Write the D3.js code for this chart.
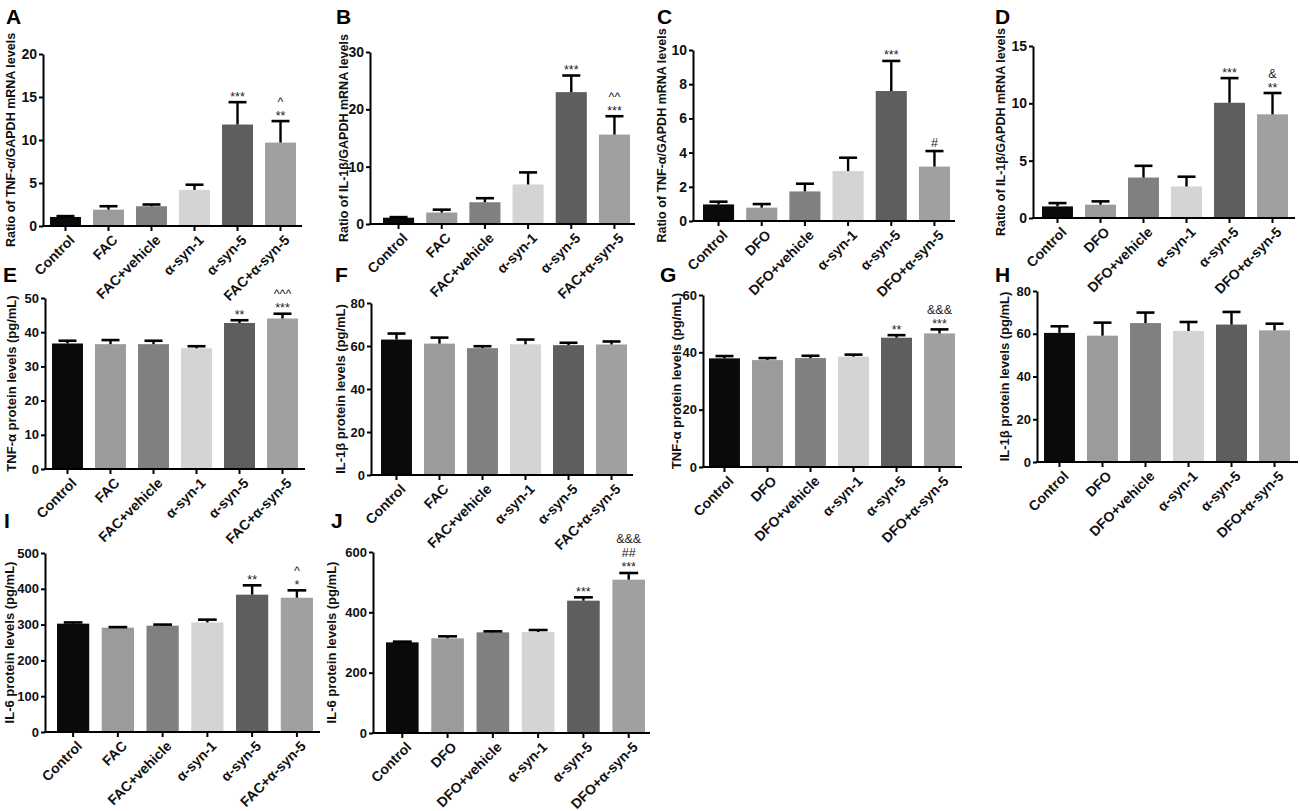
<!DOCTYPE html>
<html>
<head>
<meta charset="utf-8">
<script src="https://cdn.jsdelivr.net/npm/d3@7"></script>
<style>
  body { margin: 0; background: #fff; }
  svg { display: block; font-family: "Liberation Sans", Arial, sans-serif; }
</style>
</head>
<body>
<div id="fig"></div>
<script>
// ---- data ----
var facGroups = ["Control", "FAC", "FAC+vehicle", "α-syn-1", "α-syn-5", "FAC+α-syn-5"];
var dfoGroups = ["Control", "DFO", "DFO+vehicle", "α-syn-1", "α-syn-5", "DFO+α-syn-5"];

// A: TNF-a mRNA, FAC
var meanA = [1.05, 1.9, 2.3, 4.2, 11.8, 9.7];
var semA  = [0.1, 0.4, 0.2, 0.6, 2.6, 2.5];
// B: IL-1b mRNA, FAC
var meanB = [1.1, 2.0, 3.8, 6.9, 23.0, 15.6];
var semB  = [0.1, 0.5, 0.7, 2.1, 2.9, 3.2];
// C: TNF-a mRNA, DFO
var meanC = [0.97, 0.78, 1.73, 2.92, 7.6, 3.18];
var semC  = [0.16, 0.21, 0.45, 0.78, 1.76, 0.91];
// D: IL-1b mRNA, DFO
var meanD = [1.01, 1.16, 3.53, 2.75, 10.05, 9.04];
var semD  = [0.29, 0.29, 1.02, 0.85, 2.15, 1.86];
// E: TNF-a protein, FAC
var meanE = [36.7, 36.5, 36.5, 35.3, 42.7, 44.0];
var semE  = [0.8, 1.2, 1.0, 0.6, 0.8, 1.4];
// F: IL-1b protein, FAC
var meanF = [63.0, 61.1, 59.0, 60.8, 60.4, 60.7];
var semF  = [2.8, 2.8, 0.9, 2.2, 1.1, 1.4];
// G: TNF-a protein, DFO
var meanG = [37.9, 37.3, 38.0, 38.5, 45.1, 46.6];
var semG  = [0.8, 0.7, 0.8, 0.7, 0.9, 1.4];
// H: IL-1b protein, DFO
var meanH = [60.4, 59.1, 65.0, 61.3, 64.3, 61.6];
var semH  = [3.1, 6.1, 4.9, 4.2, 5.9, 3.1];
// I: IL-6 protein, FAC
var meanI = [302.6, 291.4, 297, 306, 383.6, 375];
var semI  = [3.4, 1.6, 3, 7.8, 26.1, 20.7];
// J: IL-6 protein, DFO
var meanJ = [300.5, 313.8, 333.7, 334.8, 438.7, 508.3];
var semJ  = [2.3, 6.6, 3.3, 6.6, 11, 22.1];

// significance marks, listed top to bottom
var sigA = [[], [], [], [], ["***"], ["^", "**"]];
var sigB = [[], [], [], [], ["***"], ["^^", "***"]];
var sigC = [[], [], [], [], ["***"], ["#"]];
var sigD = [[], [], [], [], ["***"], ["&", "**"]];
var sigE = [[], [], [], [], ["**"], ["^^^", "***"]];
var sigF = [[], [], [], [], [], []];
var sigG = [[], [], [], [], ["**"], ["&&&", "***"]];
var sigH = [[], [], [], [], [], []];
var sigI = [[], [], [], [], ["**"], ["^", "*"]];
var sigJ = [[], [], [], [], ["***"], ["&&&", "##", "***"]];

var mrnaTnf = "Ratio of TNF-α/GAPDH mRNA levels";
var mrnaIl1 = "Ratio of IL-1β/GAPDH mRNA levels";
var protTnf = "TNF-α protein levels (pg/mL)";
var protIl1 = "IL-1β protein levels (pg/mL)";
var protIl6 = "IL-6 protein levels (pg/mL)";

var barColors = ["#0a0a0a", "#9b9b9b", "#808080", "#d4d4d4", "#5e5e5e", "#a0a0a0"];

// ---- panel layout (pixels) ----
// fs: tick label size, ts: title size
var panels = [
  {letter:"A", lx:6,   ly:24,  groups:facGroups, mean:meanA, sem:semA, sig:sigA, max:20,  step:5,   title:mrnaTnf, tx:11,   ts:12.5, fs:14, ax:43,   ae:302,  b0:50,   b1:296,  y0:226, y1:54},
  {letter:"B", lx:336, ly:24,  groups:facGroups, mean:meanB, sem:semB, sig:sigB, max:30,  step:10,  title:mrnaIl1, tx:344,  ts:12.5, fs:14, ax:370,  ae:635,  b0:383,  b1:630,  y0:224, y1:52},
  {letter:"C", lx:657, ly:24,  groups:dfoGroups, mean:meanC, sem:semC, sig:sigC, max:10,  step:2,   title:mrnaTnf, tx:662,  ts:12.5, fs:14, ax:693,  ae:955,  b0:703,  b1:950,  y0:221, y1:50},
  {letter:"D", lx:995, ly:24,  groups:dfoGroups, mean:meanD, sem:semD, sig:sigD, max:15,  step:5,   title:mrnaIl1, tx:1001, ts:12.5, fs:14, ax:1033, ae:1295, b0:1042, b1:1288, y0:218, y1:46},
  {letter:"E", lx:3,   ly:282, groups:facGroups, mean:meanE, sem:semE, sig:sigE, max:50,  step:10,  title:protTnf, tx:11,   ts:13,   fs:13, ax:45,   ae:305,  b0:52,   b1:298,  y0:469, y1:298},
  {letter:"F", lx:335, ly:282, groups:facGroups, mean:meanF, sem:semF, sig:sigF, max:80,  step:20,  title:protIl1, tx:340,  ts:13,   fs:13, ax:371,  ae:633,  b0:381,  b1:627,  y0:475, y1:303},
  {letter:"G", lx:660, ly:282, groups:dfoGroups, mean:meanG, sem:semG, sig:sigG, max:60,  step:20,  title:protTnf, tx:676,  ts:13,   fs:13, ax:703,  ae:962,  b0:709,  b1:955,  y0:467, y1:295},
  {letter:"H", lx:995, ly:282, groups:dfoGroups, mean:meanH, sem:semH, sig:sigH, max:80,  step:20,  title:protIl1, tx:1004, ts:13,   fs:13, ax:1037, ae:1298, b0:1044, b1:1290, y0:462, y1:291},
  {letter:"I", lx:4,   ly:528, groups:facGroups, mean:meanI, sem:semI, sig:sigI, max:500, step:100, title:protIl6, tx:9,    ts:13,   fs:13, ax:45,   ae:320,  b0:57,   b1:313,  y0:732, y1:553},
  {letter:"J", lx:331, ly:528, groups:dfoGroups, mean:meanJ, sem:semJ, sig:sigJ, max:600, step:200, title:protIl6, tx:331,  ts:13,   fs:13, ax:373,  ae:650,  b0:386,  b1:645,  y0:733, y1:552}
];

var svg = d3.select("#fig").append("svg")
  .attr("width", 1300)
  .attr("height", 811);

panels.forEach(function(p) {
  var g = svg.append("g");

  var x = d3.scaleBand()
    .domain(p.groups)
    .range([p.b0, p.b1])
    .paddingInner(0.28)
    .paddingOuter(0);

  var y = d3.scaleLinear()
    .domain([0, p.max])
    .range([p.y0, p.y1]);

  // bars
  g.selectAll(".bar")
    .data(p.groups)
    .enter()
    .append("rect")
    .attr("x", function(d) { return x(d); })
    .attr("y", function(d, i) { return y(p.mean[i]); })
    .attr("width", x.bandwidth())
    .attr("height", function(d, i) { return y(0) - y(p.mean[i]); })
    .attr("fill", function(d, i) { return barColors[i]; });

  // error bars (upper only)
  var capW = x.bandwidth() * 0.58;
  p.groups.forEach(function(d, i) {
    var cx = x(d) + x.bandwidth() / 2;
    var top = y(p.mean[i] + p.sem[i]);
    g.append("line")
      .attr("x1", cx).attr("x2", cx)
      .attr("y1", y(p.mean[i])).attr("y2", top)
      .attr("stroke", "#000").attr("stroke-width", 2.4);
    g.append("line")
      .attr("x1", cx - capW / 2).attr("x2", cx + capW / 2)
      .attr("y1", top).attr("y2", top)
      .attr("stroke", "#000").attr("stroke-width", 2.6);

    // significance marks, stacked in one text element
    var marks = p.sig[i];
    if (marks.length) {
      var last = marks[marks.length - 1];
      var base = top - (/^\*+$/.test(last) ? 1.5 : 4);
      var lineStep = 14;
      var t = g.append("text")
        .attr("text-anchor", "middle")
        .attr("font-size", 12.5)
        .attr("fill", "#222");
      marks.forEach(function(s, k) {
        t.append("tspan")
          .attr("x", cx)
          .attr("y", base - (marks.length - 1 - k) * lineStep)
          .text(s);
      });
    }
  });

  // y axis
  var yAxis = d3.axisLeft(y)
    .tickValues(d3.range(0, p.max + p.step / 2, p.step))
    .tickSize(4)
    .tickSizeOuter(0)
    .tickPadding(2);
  var ya = g.append("g")
    .attr("transform", "translate(" + p.ax + ",0)")
    .call(yAxis);
  ya.select(".domain").attr("stroke-width", 2);
  ya.selectAll(".tick line").attr("stroke-width", 2);
  ya.selectAll("text")
    .attr("font-size", p.fs)
    .attr("font-weight", "bold")
    .attr("fill", "#111")
    .attr("font-family", "Liberation Sans, Arial, sans-serif");

  // x axis line
  g.append("line")
    .attr("x1", p.ax - 1).attr("x2", p.ae)
    .attr("y1", p.y0).attr("y2", p.y0)
    .attr("stroke", "#000").attr("stroke-width", 2);

  // x ticks and rotated labels
  p.groups.forEach(function(d) {
    var cx = x(d) + x.bandwidth() / 2;
    g.append("line")
      .attr("x1", cx).attr("x2", cx)
      .attr("y1", p.y0).attr("y2", p.y0 + 5)
      .attr("stroke", "#000").attr("stroke-width", 2);
    g.append("text")
      .attr("transform", "translate(" + (cx + 3) + "," + (p.y0 + 8) + ")rotate(-45)")
      .attr("text-anchor", "end")
      .attr("dy", "0.7em")
      .attr("font-size", 14)
      .attr("font-weight", "bold")
      .attr("fill", "#111")
      .text(d);
  });

  // y title
  g.append("text")
    .attr("transform", "translate(" + p.tx + "," + ((p.y0 + p.y1) / 2) + ")rotate(-90)")
    .attr("text-anchor", "middle")
    .attr("dominant-baseline", "central")
    .attr("font-size", p.ts)
    .attr("font-weight", "bold")
    .attr("fill", "#111")
    .text(p.title);

  // panel letter
  g.append("text")
    .attr("x", p.lx)
    .attr("y", p.ly)
    .attr("font-size", 21)
    .attr("font-weight", "bold")
    .attr("fill", "#000")
    .text(p.letter);
});
</script>
</body>
</html>
